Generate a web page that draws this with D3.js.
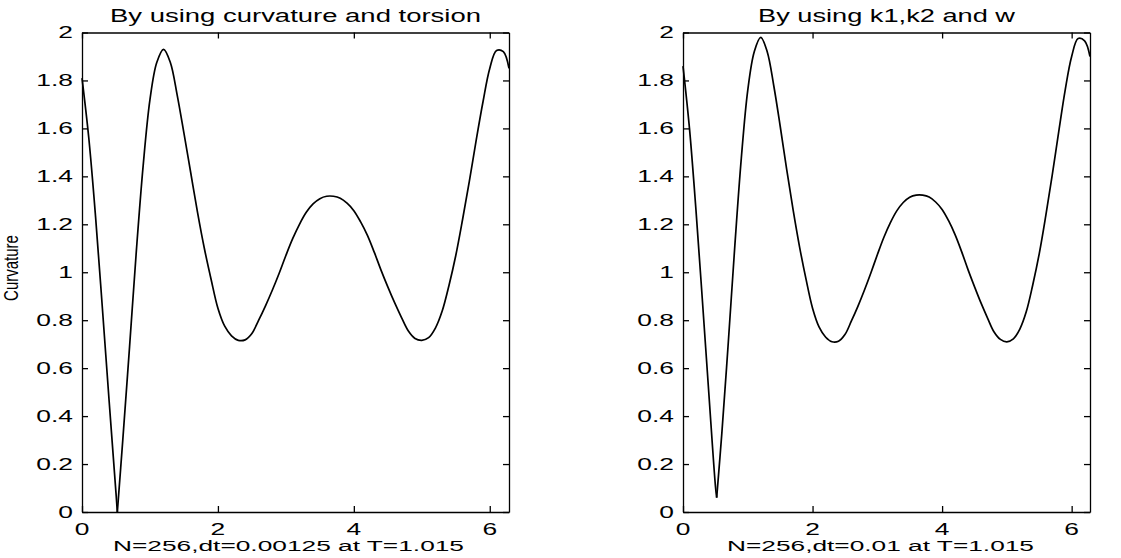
<!DOCTYPE html>
<html>
<head>
<meta charset="utf-8">
<script src="https://cdn.jsdelivr.net/npm/d3@7"></script>
<style>
  body { margin: 0; background: #fff; }
  svg { display: block; }
  text { font-family: "Liberation Sans", Arial, Helvetica, sans-serif; fill: #000; }
</style>
</head>
<body>
<svg id="fig" width="1121" height="558"></svg>
<script>
// Arc-length parameter samples along the curve (0 .. 2*pi)
const tSamples = [
  0, 0.1, 0.2, 0.3, 0.4, 0.5, 0.52, 0.6, 0.7, 0.8, 0.9,
  1.0, 1.1, 1.2, 1.3, 1.4, 1.5, 1.6, 1.7, 1.8, 1.9,
  2.0, 2.1, 2.2, 2.3, 2.4, 2.5, 2.6, 2.7, 2.8, 2.9,
  3.0, 3.1, 3.2, 3.3, 3.4, 3.5, 3.6, 3.7, 3.8, 3.9,
  4.0, 4.1, 4.2, 4.3, 4.4, 4.5, 4.6, 4.7, 4.8, 4.9,
  5.0, 5.1, 5.2, 5.3, 5.4, 5.5, 5.6, 5.7, 5.8, 5.9,
  6.0, 6.1, 6.2, 6.283
];
// index of the cusp sample (t = 0.52)
const cuspIndex = 6;

// Curvature obtained from curvature and torsion evolution
const curvatureTorsion = [
  1.81, 1.56, 1.23, 0.85, 0.46, 0.08, 0.00, 0.30, 0.69, 1.09, 1.445,
  1.72, 1.875, 1.93, 1.875, 1.74, 1.58, 1.415, 1.25, 1.10, 0.97,
  0.85, 0.775, 0.735, 0.716, 0.718, 0.745, 0.80, 0.86, 0.925, 0.995,
  1.07, 1.14, 1.20, 1.25, 1.285, 1.307, 1.317, 1.317, 1.309, 1.288,
  1.257, 1.21, 1.154, 1.084, 1.009, 0.939, 0.873, 0.812, 0.756, 0.724,
  0.716, 0.727, 0.767, 0.838, 0.945, 1.07, 1.22, 1.38, 1.55, 1.71,
  1.85, 1.925, 1.92, 1.85
];

// Curvature obtained from k1, k2 and w
const curvatureK1K2W = [
  1.86, 1.60, 1.26, 0.88, 0.49, 0.11, 0.06, 0.33, 0.71, 1.11, 1.475,
  1.76, 1.92, 1.98, 1.92, 1.78, 1.61, 1.43, 1.26, 1.105, 0.97,
  0.85, 0.772, 0.73, 0.71, 0.712, 0.74, 0.797, 0.858, 0.925, 0.997,
  1.073, 1.145, 1.206, 1.256, 1.291, 1.313, 1.322, 1.322, 1.314, 1.293,
  1.262, 1.215, 1.157, 1.087, 1.011, 0.94, 0.872, 0.81, 0.752, 0.72,
  0.71, 0.722, 0.763, 0.836, 0.948, 1.078, 1.235, 1.405, 1.585, 1.76,
  1.90, 1.975, 1.965, 1.90
];

const xTicks = [0, 2, 4, 6];
const yTicks = [0, 0.2, 0.4, 0.6, 0.8, 1, 1.2, 1.4, 1.6, 1.8, 2];
const titles = ["By using curvature and torsion", "By using k1,k2 and w"];
const xLabels = ["N=256,dt=0.00125 at T=1.015", "N=256,dt=0.01 at T=1.015"];
const yLabel = "Curvature";

const svg = d3.select("#fig");
const TOP = 32.5, BOTTOM = 512;
const TICK = 6;
const SX = 1.6; // horizontal stretch of the printed lettering

const panels = [
  { x0: 82,  x1: 509,  values: curvatureTorsion, title: titles[0], xlab: xLabels[0],
    titleLen: 371, xlabLen: 351, xlabCx: 288.5, showY: true },
  { x0: 683, x1: 1090, values: curvatureK1K2W, title: titles[1], xlab: xLabels[1],
    titleLen: 257, xlabLen: 307, xlabCx: 880.5, showY: false }
];

const y = d3.scaleLinear().domain([0, 2]).range([BOTTOM, TOP]);

panels.forEach(p => {
  const x = d3.scaleLinear().domain([0, 2 * Math.PI]).range([p.x0, p.x1]);
  const g = svg.append("g");

  // Box with inward ticks on all four sides
  const mk = (axis) => axis.tickSizeInner(-TICK).tickSizeOuter(0).tickFormat("");
  g.append("g").attr("transform", `translate(0,${BOTTOM})`).call(mk(d3.axisBottom(x).tickValues(xTicks)));
  g.append("g").attr("transform", `translate(0,${TOP})`).call(mk(d3.axisTop(x).tickValues(xTicks)));
  g.append("g").attr("transform", `translate(${p.x0},0)`).call(mk(d3.axisLeft(y).tickValues(yTicks)));
  g.append("g").attr("transform", `translate(${p.x1},0)`).call(mk(d3.axisRight(y).tickValues(yTicks)));
  g.selectAll(".domain, .tick line").attr("stroke", "#000").attr("stroke-width", 1.3);

  // Tick labels
  g.selectAll(".xlab").data(xTicks).join("text")
    .attr("transform", d => `translate(${x(d)},535) scale(${SX},1)`)
    .attr("text-anchor", "middle")
    .attr("font-size", 16.5)
    .text(d => d);

  g.selectAll(".ylab").data(yTicks).join("text")
    .attr("transform", d => `translate(${p.x0 - 9},${y(d)}) scale(${SX},1)`)
    .attr("text-anchor", "end")
    .attr("dy", "0.36em")
    .attr("font-size", 16.5)
    .text(d => String(+d.toFixed(1)));

  // Title and x-axis label
  g.append("text")
    .attr("x", (p.x0 + p.x1) / 2).attr("y", 22)
    .attr("text-anchor", "middle")
    .attr("font-size", 17.5)
    .attr("textLength", p.titleLen).attr("lengthAdjust", "spacingAndGlyphs")
    .text(p.title);

  g.append("text")
    .attr("x", p.xlabCx).attr("y", 551)
    .attr("text-anchor", "middle")
    .attr("font-size", 15.5)
    .attr("textLength", p.xlabLen).attr("lengthAdjust", "spacingAndGlyphs")
    .text(p.xlab);

  if (p.showY) {
    g.append("text")
      .attr("transform", `translate(18,268) scale(1.3,1) rotate(-90)`)
      .attr("text-anchor", "middle")
      .attr("font-size", 15)
      .text(yLabel);
  }

  // Curvature curve: smooth on each side of the cusp
  const pts = p.values.map((v, i) => [tSamples[i], v]);
  const line = d3.line()
    .x(d => x(d[0]))
    .y(d => y(d[1]))
    .curve(d3.curveCatmullRom.alpha(0.5));

  [pts.slice(0, cuspIndex + 1), pts.slice(cuspIndex)].forEach(seg => {
    g.append("path")
      .datum(seg)
      .attr("d", line)
      .attr("fill", "none")
      .attr("stroke", "#000")
      .attr("stroke-width", 1.7)
      .attr("stroke-linejoin", "round");
  });
});
</script>
</body>
</html>
